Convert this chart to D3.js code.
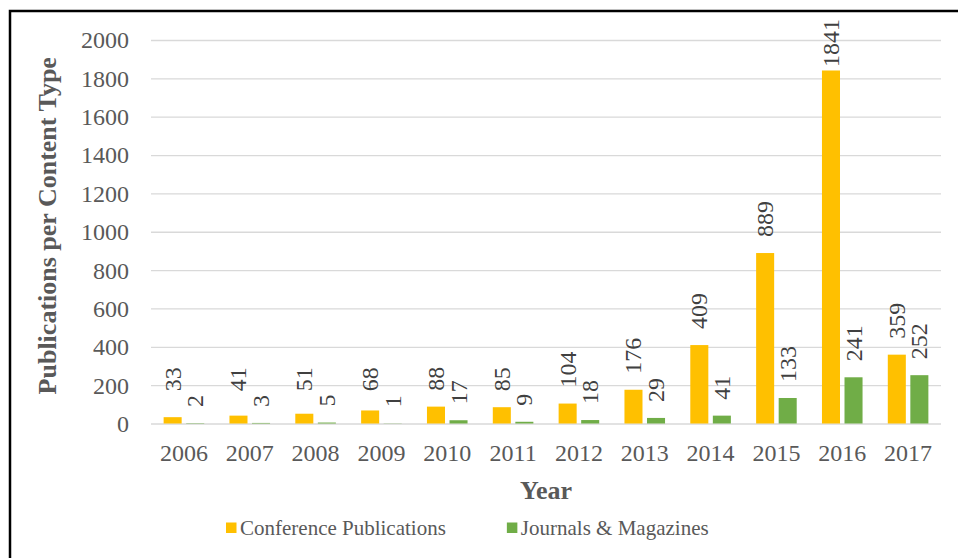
<!DOCTYPE html>
<html>
<head>
<meta charset="utf-8">
<script src="https://cdn.jsdelivr.net/npm/d3@7"></script>
<style>
  html, body { margin: 0; padding: 0; background: #fff; }
  svg { display: block; font-family: 'Liberation Serif', 'Times New Roman', serif; }
</style>
</head>
<body>
<svg id="chart" width="958" height="558"></svg>
<script>
const years = ["2006","2007","2008","2009","2010","2011","2012","2013","2014","2015","2016","2017"];
const conference = [33, 41, 51, 68, 88, 85, 104, 176, 409, 889, 1841, 359];
const journals = [2, 3, 5, 1, 17, 9, 18, 29, 41, 133, 241, 252];
const seriesNames = ["Conference Publications", "Journals & Magazines"];
const yTicks = [0, 200, 400, 600, 800, 1000, 1200, 1400, 1600, 1800, 2000];

const colors = ["#FFC000", "#70AD47"];
const textColor = "#595959";
const labelColor = "#404040";
const serif = "'Liberation Serif', 'Times New Roman', serif";

const svg = d3.select("#chart");
const W = 958, H = 558;
const margin = { left: 151, right: 17, top: 40, bottom: 134.5 };
const plotW = W - margin.left - margin.right;
const plotH = H - margin.top - margin.bottom;

// chart-area border (runs off the right and bottom edges like the original)
svg.append("rect")
  .attr("x", 10).attr("y", 11)
  .attr("width", W + 20).attr("height", H + 20)
  .attr("fill", "none").attr("stroke", "#000").attr("stroke-width", 2.5);

const g = svg.append("g").attr("transform", `translate(${margin.left},${margin.top})`);

const x0 = d3.scaleBand().domain(years).range([0, plotW]).paddingInner(0).paddingOuter(0);
const x1 = d3.scaleBand().domain(seriesNames).range([0, x0.bandwidth()]).paddingInner(0.2).paddingOuter(0.56);
const y = d3.scaleLinear().domain([0, 2000]).range([plotH, 0]);

// gridlines
const yAxis = d3.axisLeft(y).tickValues(yTicks).tickSize(-plotW).tickPadding(22).tickFormat(d3.format("d"));
const ya = g.append("g").call(yAxis);
ya.select(".domain").remove();
ya.selectAll(".tick line").attr("stroke", "#d9d9d9").attr("stroke-width", 1.3);
ya.selectAll(".tick text")
  .style("font-family", serif).attr("font-size", 24).attr("fill", textColor)
  .attr("dy", "0.33em");

// x axis labels
const xAxis = d3.axisBottom(x0).tickSize(0).tickPadding(0);
const xa = g.append("g").attr("transform", `translate(0,${plotH})`).call(xAxis);
xa.select(".domain").remove();
xa.selectAll(".tick text")
  .style("font-family", serif).attr("font-size", 24).attr("fill", textColor)
  .attr("y", 37).attr("dy", 0);

const rows = years.map((yr, i) => ({ year: yr, values: [conference[i], journals[i]] }));
// minimum label anchor value per series (Excel keeps short conference labels clear of the axis)
const labelFloor = [85, 0];
const labelGap = 16;
const topLimit = 19 - margin.top;

const groups = g.selectAll(".grp").data(rows).enter().append("g")
  .attr("class", "grp")
  .attr("transform", d => `translate(${x0(d.year)},0)`);

groups.selectAll("rect").data(d => d.values.map((v, k) => ({ v, k })))
  .enter().append("rect")
  .attr("x", d => x1(seriesNames[d.k]))
  .attr("width", x1.bandwidth())
  .attr("y", d => y(d.v))
  .attr("height", d => plotH - y(d.v))
  .attr("fill", d => colors[d.k]);

groups.selectAll("text.lbl").data(d => d.values.map((v, k) => ({ v, k })))
  .enter().append("text")
  .attr("class", "lbl")
  .style("font-family", serif).attr("font-size", 24)
  .attr("fill", labelColor)
  .attr("text-anchor", "start")
  .attr("dominant-baseline", "central")
  .text(d => d.v)
  .each(function(d) {
    const len = this.getComputedTextLength();
    let ay = Math.min(y(d.v), y(labelFloor[d.k])) - labelGap;
    if (ay - len < topLimit) ay = topLimit + len;
    const ax = x1(seriesNames[d.k]) + x1.bandwidth() / 2;
    d3.select(this).attr("transform", `translate(${ax},${ay}) rotate(-90)`);
  });

// axis titles
svg.append("text")
  .attr("transform", `translate(56,${margin.top + plotH / 2 - 6}) rotate(-90)`)
  .attr("text-anchor", "middle")
  .style("font-family", serif).attr("font-size", 26).attr("font-weight", "bold")
  .attr("fill", textColor)
  .text("Publications per Content Type");

svg.append("text")
  .attr("x", margin.left + plotW / 2).attr("y", 499)
  .attr("text-anchor", "middle")
  .style("font-family", serif).attr("font-size", 26).attr("font-weight", "bold")
  .attr("fill", textColor)
  .text("Year");

// legend
const legend = svg.append("g").attr("transform", "translate(226,535)");
let lx = 0;
seriesNames.forEach((name, i) => {
  const item = legend.append("g").attr("transform", `translate(${lx},0)`);
  item.append("rect").attr("x", 0).attr("y", -12.5).attr("width", 10.5).attr("height", 10.5).attr("fill", colors[i]);
  const t = item.append("text").attr("x", 14).attr("y", 0)
    .style("font-family", serif).attr("font-size", 21).attr("fill", textColor)
    .text(name);
  lx += 14 + t.node().getComputedTextLength() + 61;
});
</script>
</body>
</html>
